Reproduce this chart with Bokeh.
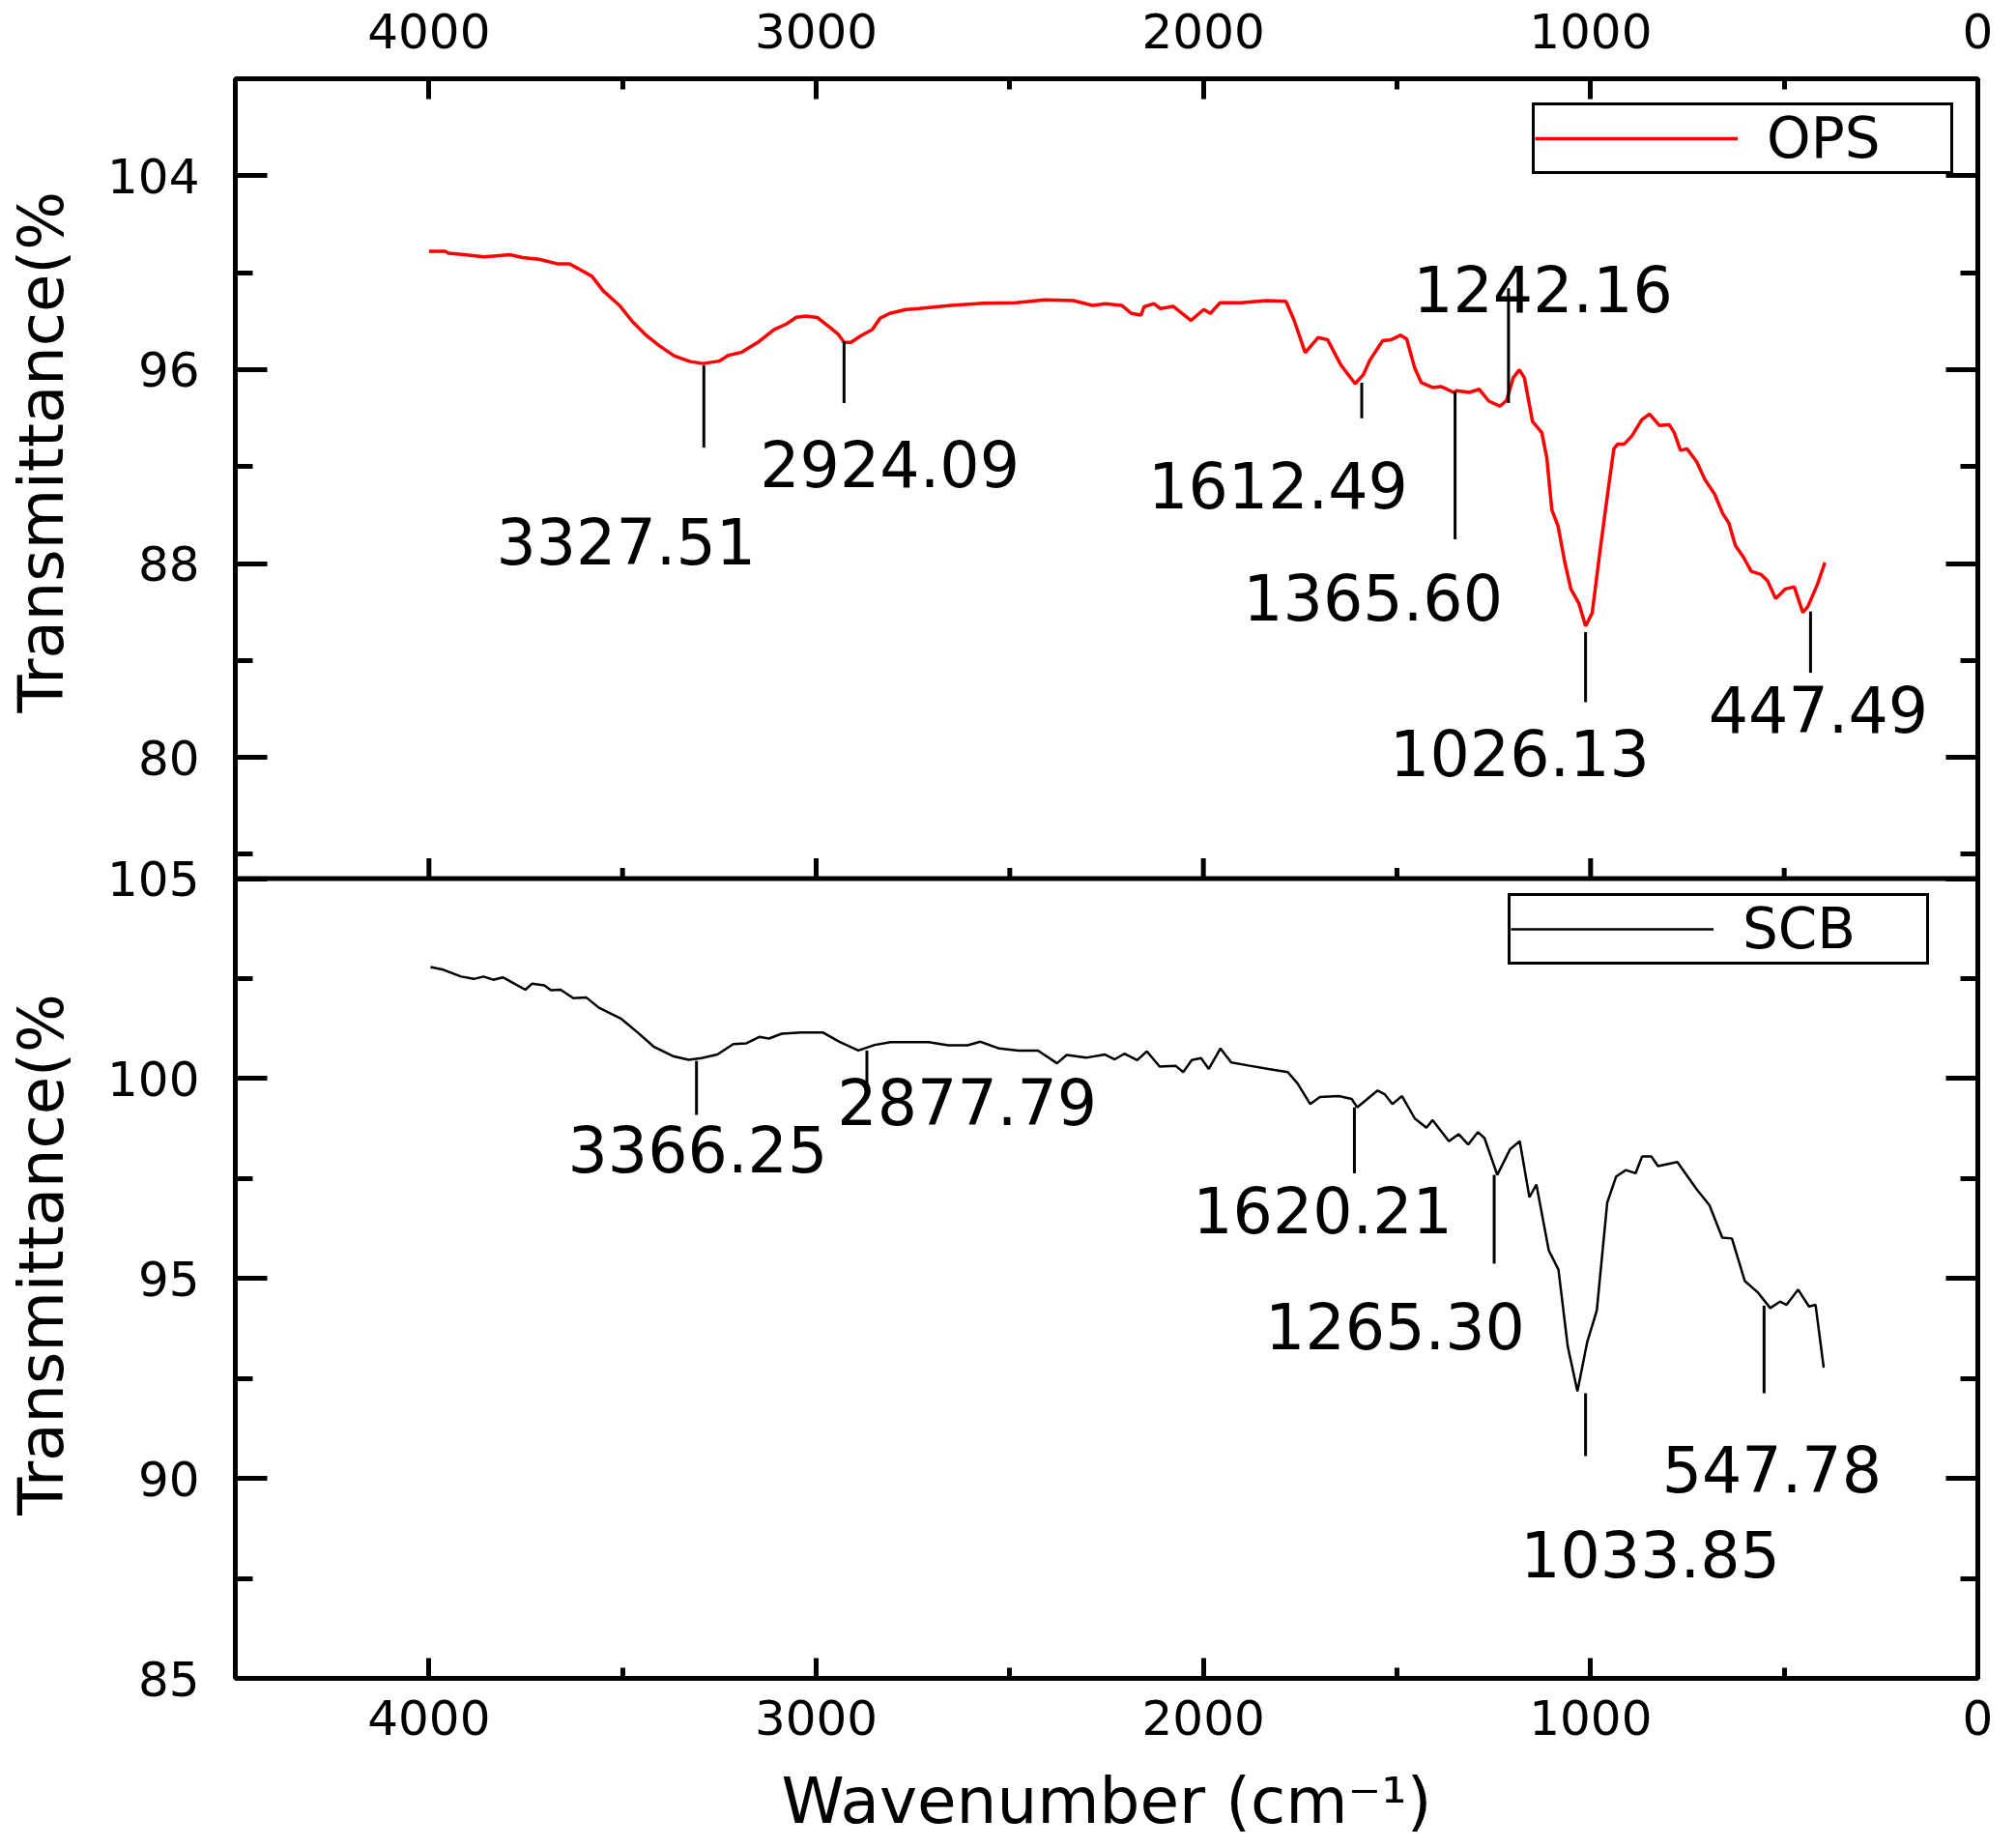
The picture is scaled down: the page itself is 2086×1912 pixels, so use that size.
import numpy as np
from bokeh.plotting import figure
from bokeh.layouts import row
from bokeh.models import (Range1d, LinearAxis, FixedTicker, CustomJSTickFormatter, Span,
                          Legend, LegendItem)
from bokeh.core.properties import value
from bokeh.embed import file_html
from bokeh.resources import INLINE

FONT = "DejaVu Sans"

# ---------------- data ----------------
OPS_WN = [4000, 3958, 3949, 3908, 3858, 3791, 3758, 3716, 3666, 3637, 3616, 3579, 3550, 3508,
          3475, 3442, 3408, 3367, 3325, 3292, 3251, 3226, 3192, 3151, 3109, 3076, 3051, 3026,
          2997, 2968, 2943, 2928, 2910, 2885, 2855, 2835, 2810, 2768, 2735, 2652, 2568, 2485,
          2410, 2336, 2286, 2253, 2211, 2186, 2161, 2153, 2128, 2111, 2078, 2032, 1999, 1982,
          1957, 1903, 1837, 1787, 1766, 1737, 1704, 1679, 1645, 1608, 1587, 1570, 1537, 1516,
          1491, 1475, 1454, 1437, 1408, 1387, 1371, 1354, 1346, 1313, 1288, 1263, 1234, 1217,
          1200, 1184, 1171, 1150, 1126, 1113, 1100, 1084, 1067, 1051, 1030, 1013, 996, 976,
          955, 940, 930, 913, 893, 868, 848, 822, 797, 784, 768, 751, 726, 705, 680, 659, 643,
          626, 606, 585, 560, 543, 522, 497, 474, 452, 439, 414, 395]
OPS_T = [100.88, 100.88, 100.80, 100.74, 100.65, 100.74, 100.62, 100.55, 100.36, 100.36, 100.18,
         99.85, 99.25, 98.65, 97.99, 97.46, 97.02, 96.57, 96.33, 96.25, 96.35, 96.59, 96.72,
         97.12, 97.65, 97.89, 98.16, 98.21, 98.15, 97.79, 97.46, 97.12, 97.12, 97.39, 97.65,
         98.12, 98.32, 98.48, 98.52, 98.65, 98.74, 98.76, 98.88, 98.85, 98.65, 98.72, 98.65,
         98.32, 98.25, 98.59, 98.72, 98.52, 98.61, 98.03, 98.48, 98.32, 98.76, 98.76, 98.85,
         98.82, 98.05, 96.70, 97.32, 97.23, 96.19, 95.42, 95.79, 96.39, 97.19, 97.23, 97.42,
         97.26, 96.06, 95.46, 95.26, 95.30, 95.19, 95.06, 95.13, 95.06, 95.19, 94.70, 94.49,
         94.73, 95.66, 95.99, 95.66, 93.86, 93.40, 92.34, 90.21, 89.54, 88.08, 86.95, 86.35,
         85.42, 85.95, 88.48, 91.00, 92.73, 92.93, 92.93, 93.27, 93.93, 94.17, 93.69, 93.73,
         93.40, 92.67, 92.73, 92.20, 91.47, 90.87, 90.07, 89.67, 88.74, 88.28, 87.68, 87.55,
         87.28, 86.55, 86.95, 87.04, 85.98, 86.22, 87.15, 88.04]

SCB_WN = [3996, 3966, 3917, 3884, 3859, 3834, 3809, 3751, 3734, 3702, 3685, 3660, 3627, 3594,
          3561, 3503, 3462, 3420, 3370, 3329, 3296, 3255, 3214, 3180, 3147, 3122, 3089, 3040,
          2982, 2940, 2891, 2849, 2808, 2709, 2659, 2609, 2576, 2527, 2477, 2427, 2378, 2353,
          2303, 2254, 2229, 2204, 2171, 2146, 2113, 2072, 2052, 2030, 2006, 1986, 1956, 1928,
          1881, 1832, 1782, 1757, 1724, 1699, 1650, 1617, 1603, 1584, 1550, 1531, 1512, 1487,
          1454, 1424, 1408, 1366, 1341, 1316, 1291, 1274, 1241, 1208, 1183, 1158, 1140, 1108,
          1083, 1059, 1034, 1009, 984, 957, 934, 909, 884, 867, 843, 826, 776, 726, 693, 660,
          635, 602, 569, 536, 511, 494, 464, 436, 419, 398]
SCB_T = [102.79, 102.73, 102.55, 102.49, 102.55, 102.47, 102.53, 102.22, 102.37, 102.33, 102.21,
         102.22, 102.01, 102.03, 101.77, 101.49, 101.16, 100.80, 100.56, 100.47, 100.51, 100.60,
         100.86, 100.88, 101.04, 101.00, 101.12, 101.15, 101.15, 100.92, 100.70, 100.84, 100.91,
         100.91, 100.83, 100.83, 100.92, 100.75, 100.70, 100.70, 100.38, 100.59, 100.52, 100.60,
         100.48, 100.62, 100.46, 100.68, 100.30, 100.32, 100.16, 100.46, 100.51, 100.24, 100.75,
         100.40, 100.32, 100.24, 100.16, 99.88, 99.36, 99.54, 99.56, 99.49, 99.28, 99.43, 99.70,
         99.60, 99.36, 99.56, 99.00, 98.77, 98.96, 98.43, 98.61, 98.35, 98.66, 98.51, 97.59,
         98.23, 98.43, 97.03, 97.35, 95.70, 95.22, 93.30, 92.18, 93.40, 94.20, 96.90, 97.55,
         97.71, 97.63, 98.05, 98.05, 97.81, 97.91, 97.23, 96.83, 96.02, 96.00, 94.94, 94.66,
         94.26, 94.42, 94.34, 94.72, 94.30, 94.34, 92.77]

# peak annotations: label text, marker position and marker extent, label centre
OPS_PEAK_TEXT = ["3327.51", "2924.09", "1612.49", "1365.60", "1242.16", "1026.13", "447.49"]
OPS_PEAK_X = [3290, 2928, 1591, 1350, 1212, 1013, 432]
OPS_PEAK_Y0 = [96.17, 97.17, 95.46, 95.10, 94.62, 85.17, 86.02]
OPS_PEAK_Y1 = [92.78, 94.62, 93.99, 89.00, 99.36, 82.28, 83.49]
OPS_LABEL_X = [3491, 2810, 1807, 1562, 1123, 1183, 412]
OPS_LABEL_Y = [88.92, 92.11, 91.27, 86.64, 99.36, 80.22, 81.98]

SCB_PEAK_TEXT = ["3366.25", "2877.79", "1620.21", "1265.30", "1033.85", "547.78"]
SCB_PEAK_X = [3309, 2869, 1610, 1249, 1013, 552]
SCB_PEAK_Y0 = [100.44, 100.70, 99.28, 97.59, 92.13, 94.32]
SCB_PEAK_Y1 = [99.09, 99.81, 97.63, 95.37, 90.56, 92.13]
SCB_LABEL_X = [3306, 2610, 1692, 1505, 846, 532]
SCB_LABEL_Y = [98.24, 99.42, 96.72, 93.81, 88.12, 90.24]

X_LIM = (4500, 0)
X_MAJOR = [4000, 3000, 2000, 1000, 0]
X_MINOR = [3500, 2500, 1500, 500]
TOP_LIM = (75, 108)
TOP_MAJOR = [80, 88, 96, 104]
TOP_MINOR = [76, 84, 92, 100]
BOT_LIM = (85, 105)
BOT_MAJOR = [85, 90, 95, 100, 105]
BOT_MINOR = [87.5, 92.5, 97.5, 102.5]

Y_TITLE = "Transmittance(%"
X_TITLE = "Wavenumber (cm⁻¹)"
Y_TITLE_POS = {"top": 92.6, "bot": 95.6}   # centre of each rotated title, in panel units

# ---------------- layout ----------------
TITLE_W = 90                       # narrow strip that carries the two rotated y titles
FRAME_W, FRAME_H = 1803, 1655
BORDER_L, BORDER_R, BORDER_T, BORDER_B = 243 - TITLE_W, 36, 81, 170
TSPAN = TOP_LIM[1] - TOP_LIM[0]
BSPAN = BOT_LIM[1] - BOT_LIM[0]


def top_norm(v):
    return 1.0 + (v - TOP_LIM[0]) / TSPAN


def bot_norm(v):
    return (v - BOT_LIM[0]) / BSPAN


def panel_ranges():
    return {"top": Range1d(TOP_LIM[0] - TSPAN, TOP_LIM[1]),
            "bot": Range1d(BOT_LIM[0], BOT_LIM[1] + BSPAN)}


p = figure(frame_width=FRAME_W, frame_height=FRAME_H,
           x_range=Range1d(*X_LIM), y_range=Range1d(0, 2),
           output_backend="svg", toolbar_location=None,
           x_axis_location=None, y_axis_location=None,
           min_border_left=BORDER_L, min_border_right=BORDER_R,
           min_border_top=BORDER_T, min_border_bottom=BORDER_B,
           background_fill_color="white", border_fill_color="white")
p.grid.visible = False
p.outline_line_color = "black"
p.outline_line_width = 5
p.outline_line_alpha = 1.0
p.extra_y_ranges = panel_ranges()

# divider between the two panels
p.add_layout(Span(location=1.0, dimension="width", line_color="black", line_width=5))

# spectra
r_ops = p.line(OPS_WN, OPS_T, y_range_name="top", line_color="red", line_width=3.5)
r_scb = p.line(SCB_WN, SCB_T, y_range_name="bot", line_color="black", line_width=2.5)

# peak markers and labels
p.segment(x0=OPS_PEAK_X, y0=OPS_PEAK_Y0, x1=OPS_PEAK_X, y1=OPS_PEAK_Y1,
          y_range_name="top", line_color="black", line_width=3)
p.segment(x0=SCB_PEAK_X, y0=SCB_PEAK_Y0, x1=SCB_PEAK_X, y1=SCB_PEAK_Y1,
          y_range_name="bot", line_color="black", line_width=3)
p.text(x=OPS_LABEL_X, y=OPS_LABEL_Y, text=OPS_PEAK_TEXT, y_range_name="top",
       text_font=value(FONT), text_font_size="65px", text_color="black",
       text_align="center", text_baseline="middle")
p.text(x=SCB_LABEL_X, y=SCB_LABEL_Y, text=SCB_PEAK_TEXT, y_range_name="bot",
       text_font=value(FONT), text_font_size="65px", text_color="black",
       text_align="center", text_baseline="middle")

# inward ticks on the shared border (top panel's bottom edge)
px_to_norm = 2.0 / FRAME_H
p.segment(x0=X_MAJOR, y0=[1.0] * len(X_MAJOR), x1=X_MAJOR,
          y1=[1.0 + 21 * px_to_norm] * len(X_MAJOR), line_color="black", line_width=5)
p.segment(x0=X_MINOR, y0=[1.0] * len(X_MINOR), x1=X_MINOR,
          y1=[1.0 + 11 * px_to_norm] * len(X_MINOR), line_color="black", line_width=5)

# ---------------- axes ----------------
y_ticker = FixedTicker(ticks=[top_norm(v) for v in TOP_MAJOR] + [bot_norm(v) for v in BOT_MAJOR],
                       minor_ticks=[top_norm(v) for v in TOP_MINOR] + [bot_norm(v) for v in BOT_MINOR])
y_fmt = CustomJSTickFormatter(code=f"""
    let v;
    if (tick > 1.0 + 1e-9) {{ v = {TOP_LIM[0]} + (tick - 1.0) * {TSPAN}; }}
    else {{ v = {BOT_LIM[0]} + tick * {BSPAN}; }}
    return String(Math.round(v * 100) / 100);
""")


def style_axis(ax, major_len, minor_len):
    ax.axis_line_color = None
    ax.major_tick_in = major_len
    ax.major_tick_out = 0
    ax.minor_tick_in = minor_len
    ax.minor_tick_out = 0
    ax.major_tick_line_width = 5
    ax.minor_tick_line_width = 5
    ax.major_tick_line_color = "black"
    ax.minor_tick_line_color = "black"
    ax.major_label_text_font = FONT
    ax.major_label_text_font_size = "50px"
    ax.major_label_text_color = "black"


left = LinearAxis(ticker=y_ticker, formatter=y_fmt)
style_axis(left, 33, 18)
left.major_label_standoff = 37
p.add_layout(left, "left")

right = LinearAxis(ticker=y_ticker, formatter=CustomJSTickFormatter(code="return ''"))
style_axis(right, 33, 18)
right.major_label_standoff = 0
p.add_layout(right, "right")

x_ticker = FixedTicker(ticks=X_MAJOR, minor_ticks=X_MINOR)
above = LinearAxis(ticker=x_ticker)
style_axis(above, 21, 11)
above.major_label_standoff = 32
p.add_layout(above, "above")

below = LinearAxis(ticker=x_ticker, axis_label=X_TITLE)
style_axis(below, 21, 11)
below.major_label_standoff = 22
below.axis_label_standoff = 27
below.axis_label_text_font = FONT
below.axis_label_text_font_size = "66px"
below.axis_label_text_font_style = "normal"
below.axis_label_text_color = "black"
p.add_layout(below, "below")

# ---------------- legends ----------------
def make_legend(label, rend, loc):
    lg = Legend(items=[LegendItem(label=label, renderers=[rend])], location=loc,
                border_line_color="black", border_line_width=3, border_line_alpha=1.0,
                background_fill_color="white", background_fill_alpha=1.0,
                label_text_font=FONT, label_text_font_size="58px", label_text_color="black",
                glyph_width=210, glyph_height=20, label_standoff=30,
                padding=0, spacing=0, margin=0, label_width=190)
    p.add_layout(lg)


make_legend("OPS", r_ops, (1342, 1556))
make_legend("SCB", r_scb, (1317, 738))

# ---------------- strip with the rotated y titles ----------------
# shares the panel scales of the main plot, so each title sits beside its own panel
t = figure(frame_width=TITLE_W, frame_height=FRAME_H,
           x_range=Range1d(0, TITLE_W), y_range=Range1d(0, 2),
           output_backend="svg", toolbar_location=None,
           x_axis_location=None, y_axis_location=None,
           min_border_left=0, min_border_right=0,
           min_border_top=BORDER_T, min_border_bottom=BORDER_B,
           background_fill_color="white", border_fill_color="white")
t.grid.visible = False
t.outline_line_color = None
t.extra_y_ranges = panel_ranges()
for name, ypos in Y_TITLE_POS.items():
    t.text(x=[TITLE_W * 0.47], y=[ypos], text=[Y_TITLE], y_range_name=name, angle=np.pi / 2,
           text_font=value(FONT), text_font_size="64px", text_color="black",
           text_align="center", text_baseline="middle")

layout = row(t, p, spacing=0)
open("out.html", "w").write(file_html(layout, INLINE))
